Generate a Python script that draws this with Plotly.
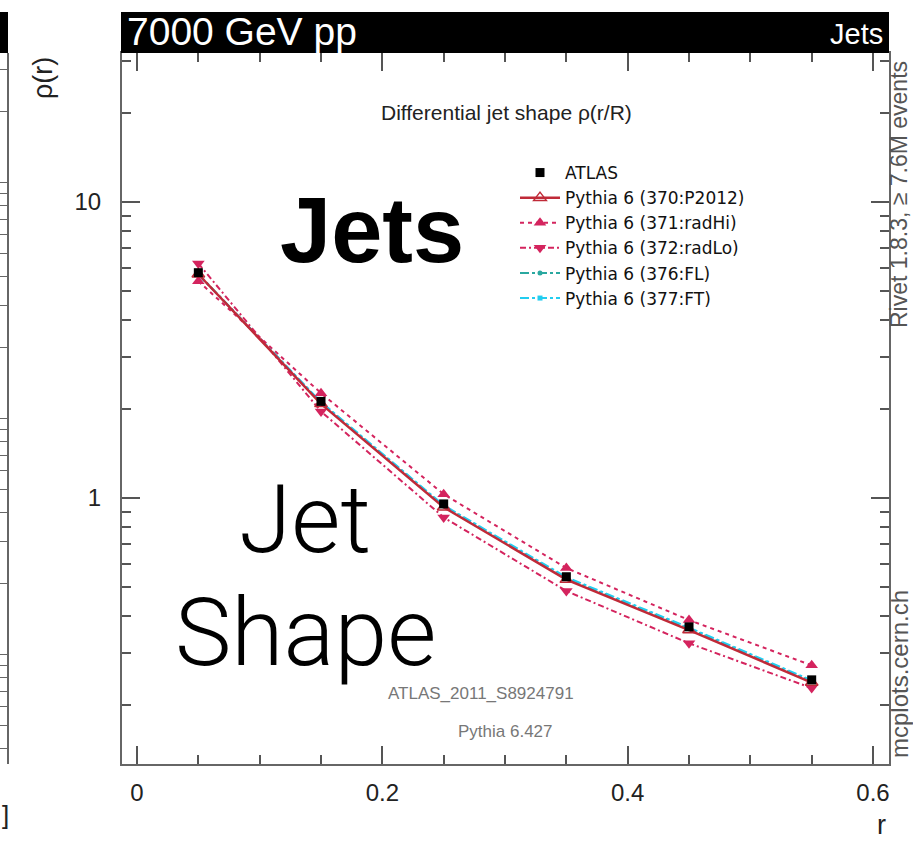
import plotly.graph_objects as go

# ---------------- data ----------------
r_vals = [0.05, 0.15, 0.25, 0.35, 0.45, 0.55]
atlas = [5.77, 2.12, 0.955, 0.542, 0.367, 0.243]
p2012 = [5.70, 2.08, 0.930, 0.530, 0.358, 0.238]
radhi = [5.40, 2.26, 1.030, 0.580, 0.387, 0.272]
radlo = [6.20, 1.96, 0.860, 0.485, 0.323, 0.228]
fl = [5.72, 2.10, 0.940, 0.535, 0.362, 0.240]
ft = [5.68, 2.11, 0.945, 0.540, 0.365, 0.242]

x_ticks = [0, 0.2, 0.4, 0.6]
x_ticktext = ["0", "0.2", "0.4", "0.6"]
y_ticks = [1, 10]
y_ticktext = ["1", "10"]
y_minor = [0.2, 0.3, 0.4, 0.5, 0.6, 0.7, 0.8, 0.9, 2, 3, 4, 5, 6, 7, 8, 9, 20, 30]

W, H = 913, 841
L_PX, R_PX, T_PX, B_PX = 122, 889, 53, 764


def px(x):
    return x / W


def py(y):
    return (B_PX - y) / (B_PX - T_PX)


FONT = "Liberation Sans, Arial, Helvetica, sans-serif"
RED = "#c02a38"
PINK = "#d4245e"
TEAL = "#2aa8a0"
CYAN = "#22cdf0"

fig = go.Figure()

fig.add_trace(go.Scatter(x=r_vals, y=fl, name="Pythia 6 (376:FL)", mode="lines+markers",
                         line=dict(color=TEAL, width=2, dash="dashdot"),
                         marker=dict(symbol="circle", size=5, color=TEAL)))
fig.add_trace(go.Scatter(x=r_vals, y=ft, name="Pythia 6 (377:FT)", mode="lines+markers",
                         line=dict(color=CYAN, width=2, dash="dashdot"),
                         marker=dict(symbol="square", size=5, color=CYAN)))
fig.add_trace(go.Scatter(x=r_vals, y=radhi, name="Pythia 6 (371:radHi)", mode="lines+markers",
                         line=dict(color=PINK, width=2, dash="4px,4px"),
                         marker=dict(symbol="triangle-up", size=11, color=PINK)))
fig.add_trace(go.Scatter(x=r_vals, y=radlo, name="Pythia 6 (372:radLo)", mode="lines+markers",
                         line=dict(color=PINK, width=2, dash="6px,3px,2px,3px"),
                         marker=dict(symbol="triangle-down", size=11, color=PINK)))
fig.add_trace(go.Scatter(x=r_vals, y=p2012, name="Pythia 6 (370:P2012)", mode="lines+markers",
                         line=dict(color=RED, width=2.5),
                         marker=dict(symbol="triangle-up-open", size=11, color=RED,
                                     line=dict(width=1.5, color=RED))))
fig.add_trace(go.Scatter(x=r_vals, y=atlas, name="ATLAS", mode="markers",
                         marker=dict(symbol="square", size=9, color="black")))

# legend order
order = {"ATLAS": 1, "Pythia 6 (370:P2012)": 2, "Pythia 6 (371:radHi)": 3,
         "Pythia 6 (372:radLo)": 4, "Pythia 6 (376:FL)": 5, "Pythia 6 (377:FT)": 6}
for tr in fig.data:
    tr.legendrank = order[tr.name]

# empty trace for neighbouring chart's axis (left strip)
fig.add_trace(go.Scatter(x=[], y=[], yaxis="y2", showlegend=False, hoverinfo="skip"))

axis_common = dict(showline=True, linecolor="#666", linewidth=2, mirror="ticks",
                   ticks="inside", tickcolor="#555", tickwidth=1.5, showgrid=False,
                   zeroline=False, tickfont=dict(family=FONT, size=24, color="#222"))

fig.update_layout(
    width=W, height=H,
    margin=dict(l=0, r=0, t=T_PX, b=H - B_PX, pad=0),
    paper_bgcolor="white", plot_bgcolor="white",
    showlegend=True,
    legend=dict(x=px(515), y=py(155), xanchor="left", yanchor="top",
                bgcolor="rgba(0,0,0,0)", font=dict(family="DejaVu Sans, " + FONT, size=17, color="#111"),
                itemwidth=40, traceorder="normal"),
    xaxis=dict(domain=[px(L_PX), px(R_PX)], range=[(L_PX - 137) / 1226.7, (R_PX - 137) / 1226.7],
               tickvals=x_ticks, ticktext=x_ticktext, ticklen=18, ticklabelstandoff=6,
               minor=dict(ticks="inside", ticklen=9, tick0=0, dtick=0.05, tickcolor="#555", tickwidth=1.5),
               **axis_common),
    yaxis=dict(type="log", range=[-(B_PX - 498) / 296, 1 + (202 - T_PX) / 296],
               tickvals=y_ticks, ticktext=y_ticktext, ticklen=18, ticklabelstandoff=14,
               minor=dict(ticks="inside", ticklen=9, tickvals=y_minor, tickcolor="#555", tickwidth=1.5),
               **axis_common),
    yaxis2=dict(type="log", overlaying="y", anchor="free", position=px(8), side="left",
                range=[-(B_PX - 655) / 235, 2 + (182 - T_PX) / 235],
                tickvals=[1, 10, 100], showticklabels=False, ticks="outside", ticklen=8,
                tickcolor="#666", showline=True, linecolor="#666", linewidth=2, showgrid=False,
                minor=dict(ticks="outside", ticklen=8, tickcolor="#666",
                           tickvals=[0.4, 0.5, 0.6, 0.7, 0.8, 0.9, 2, 3, 4, 5, 6, 7, 8, 9,
                                     20, 30, 40, 50, 60, 70, 80, 90, 200, 300])),
)

shapes = [
    dict(type="rect", xref="paper", yref="paper", x0=px(L_PX - 1), x1=px(R_PX), y0=py(T_PX), y1=py(12),
         fillcolor="black", line=dict(width=0), layer="above"),
    dict(type="rect", xref="paper", yref="paper", x0=0, x1=px(8), y0=py(T_PX), y1=py(12),
         fillcolor="black", line=dict(width=0), layer="above"),
]
fig.update_layout(shapes=shapes)

ann = []


def add_text(text, x, y, size, color="#111", xanchor="center", yanchor="middle", angle=0,
             family=FONT, weight=None):
    f = dict(family=family, size=size, color=color)
    if weight is not None:
        f["weight"] = weight
    ann.append(dict(text=text, x=px(x), y=py(y), xref="paper", yref="paper", showarrow=False,
                    xanchor=xanchor, yanchor=yanchor, textangle=angle, font=f))


add_text("7000 GeV pp", 125, 32, 39, "white", xanchor="left")
add_text("Jets", 885, 34, 29, "white", xanchor="right")
add_text("ρ(r)", 43, 78, 27, "#222", angle=-90)
add_text("r", 881, 825, 27, "#222")
add_text("Differential jet shape ρ(r/R)", 506, 112, 21, "#222")
add_text("ATLAS_2011_S8924791", 481, 693, 17, "#777")
add_text("Pythia 6.427", 505, 731, 17, "#777")
add_text("Rivet 1.8.3, ≥ 7.6M events", 899, 195, 23, "#555", angle=-90)
add_text("mcplots.cern.ch", 899, 674, 24, "#555", angle=-90)
add_text("]", 5, 815, 26, "#222")
add_text("Jets", 372, 230, 92, "black", weight="bold")
add_text("Jet", 305, 519, 95, "black", family="Roboto, Helvetica Neue, Liberation Sans, sans-serif", weight=300)
add_text("Shape", 305, 632, 95, "black", family="Roboto, Helvetica Neue, Liberation Sans, sans-serif", weight=300)

fig.update_layout(annotations=ann)

fig.write_html("out.html")
